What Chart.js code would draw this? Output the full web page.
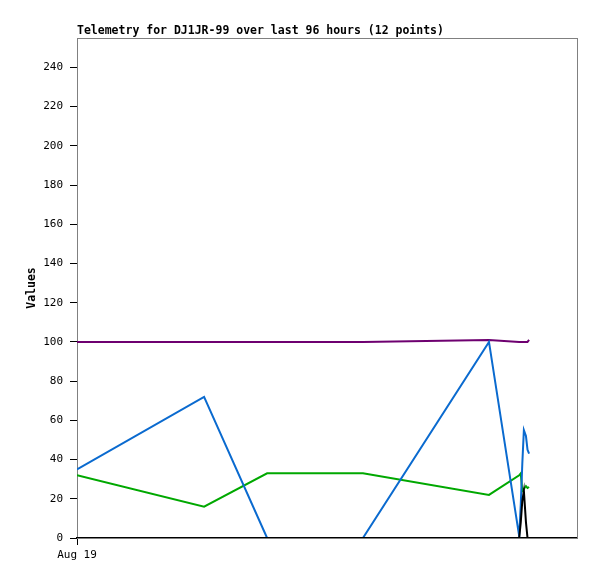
<!DOCTYPE html>
<html>
<head>
<meta charset="utf-8">
<script src="https://cdn.jsdelivr.net/npm/chart.js@4/dist/chart.umd.min.js"></script>
<style>
  html, body { margin: 0; padding: 0; background: #fff; }
  #wrap { width: 597px; height: 579px; }
</style>
</head>
<body>
<div id="wrap"><canvas id="telemetryChart" width="597" height="579"></canvas></div>
<script>
// hours since the first point (Aug 19)
const hours = [0, 24.4, 36.5, 54.9, 79.1, 84.9, 85.2, 85.5, 85.8, 86.2, 86.5, 86.8];

// channel values
const ch1 = [35, 72, 0, 0, 100, 1, 17, 38, 55, 52, 45, 43];         // blue
const ch2 = [32, 16, 33, 33, 22, 32, 33, 24, 25, 26.5, 25.5, 26];    // green
const ch3 = [100, 100, 100, 100, 101, 100, 100, 100, 100, 100, 100, 101]; // purple
const ch4 = [0, 0, 0, 0, 0, 0, 8, 19, 24, 8, 0, 0];                  // black

const xTickLabels = ['Aug 19'];
const xTickValues = [0];

const titleText = 'Telemetry for DJ1JR-99 over last 96 hours (12 points)';
const monoFont = '"DejaVu Sans Mono", monospace';

function toPoints(vals) {
    return vals.map((v, i) => ({ x: hours[i], y: v }));
}

// grey frame + title drawn at the plot's left edge
const framePlugin = {
    id: 'frame',
    beforeDatasetsDraw(chart) {
        const { ctx, chartArea: a } = chart;
        ctx.save();
        ctx.strokeStyle = '#808080';
        ctx.lineWidth = 1;
        ctx.strokeRect(a.left + 0.5, a.top + 0.5, a.right - a.left, a.bottom - a.top);
        ctx.restore();
    },
    afterDraw(chart) {
        const { ctx, chartArea: a } = chart;
        ctx.save();
        ctx.font = 'bold 11.5px ' + monoFont;
        ctx.fillStyle = '#000';
        ctx.textBaseline = 'bottom';
        ctx.textAlign = 'left';
        ctx.fillText(titleText, a.left, a.top - 1);
        ctx.restore();
    }
};

const ds = (label, data, color) => ({
    label, data: toPoints(data), borderColor: color, backgroundColor: color,
    borderWidth: 2, pointRadius: 0, tension: 0, fill: false
});

new Chart(document.getElementById('telemetryChart'), {
    type: 'line',
    data: {
        datasets: [
            ds('ch4', ch4, '#000000'),
            ds('ch1', ch1, '#0a6acf'),
            ds('ch2', ch2, '#00a800'),
            ds('ch3', ch3, '#6e0070')
        ]
    },
    options: {
        responsive: false,
        animation: false,
        layout: { padding: { top: 38, right: 20, left: 0, bottom: 0 } },
        plugins: { legend: { display: false }, tooltip: { enabled: false }, title: { display: false } },
        scales: {
            x: {
                type: 'linear', min: 0, max: 96,
                afterFit: s => { s.height = 41; },
                afterBuildTicks: s => { s.ticks = xTickValues.map(v => ({ value: v })); },
                ticks: {
                    autoSkip: false, maxRotation: 0, padding: 4,
                    color: '#000', font: { family: monoFont, size: 11 },
                    callback: (v) => xTickLabels[xTickValues.indexOf(v)] || ''
                },
                grid: { drawOnChartArea: false, drawTicks: true, tickLength: 7, color: '#000' },
                border: { display: true, color: '#000', width: 2 }
            },
            y: {
                min: 0, max: 255,
                afterFit: s => { s.width = 77; },
                afterBuildTicks: s => { s.ticks = s.ticks.filter(t => t.value % 20 === 0); },
                ticks: {
                    stepSize: 20, padding: 7,
                    color: '#000', font: { family: monoFont, size: 11 }
                },
                grid: { drawOnChartArea: false, drawTicks: true, tickLength: 7, color: '#000' },
                border: { display: true, color: '#000', width: 1 },
                title: {
                    display: true, text: 'Values', color: '#000',
                    font: { family: monoFont, size: 11.5, weight: 'bold' },
                    padding: { top: 25, bottom: 0 }
                }
            }
        }
    },
    plugins: [framePlugin]
});
</script>
</body>
</html>
